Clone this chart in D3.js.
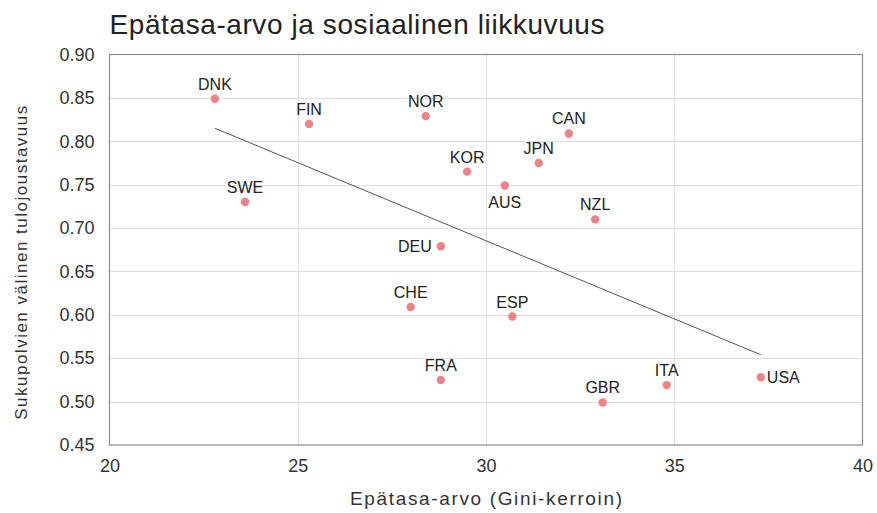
<!DOCTYPE html>
<html>
<head>
<meta charset="utf-8">
<script src="https://cdn.jsdelivr.net/npm/d3@7"></script>
<style>
  html, body { margin: 0; padding: 0; background: #fff; }
  svg { display: block; font-family: "Liberation Sans", Arial, sans-serif; }
</style>
</head>
<body>
<svg id="chart" width="877" height="513"></svg>
<script>
// ---- data ----
const countries = ["DNK","FIN","SWE","NOR","CAN","KOR","JPN","AUS","NZL","DEU","CHE","ESP","FRA","GBR","ITA","USA"];
const gini      = [22.8, 25.3, 23.6, 28.4, 32.2, 29.5, 31.4, 30.5, 32.9, 28.8, 28.0, 30.7, 28.8, 33.1, 34.8, 37.3];
const mobility  = [0.849, 0.820, 0.730, 0.829, 0.809, 0.765, 0.775, 0.749, 0.710, 0.679, 0.609, 0.598, 0.525, 0.499, 0.519, 0.528];
const labelSide = ["top","top","top","top","top","top","top","bottom","top","left","top","top","top","top","top","right"];
const trendX = [22.8, 37.3];
const trendY = [0.815, 0.554];
const xTicks = [20, 25, 30, 35, 40];
const yTicks = [0.45, 0.50, 0.55, 0.60, 0.65, 0.70, 0.75, 0.80, 0.85, 0.90];
const titleText = "Epätasa-arvo ja sosiaalinen liikkuvuus";
const xTitle = "Epätasa-arvo (Gini-kerroin)";
const yTitle = "Sukupolvien välinen tulojoustavuus";

// ---- layout ----
const svg = d3.select("#chart");
const L = 109.5, R = 862.5, T = 54.5, B = 445;
const x = d3.scaleLinear().domain([20, 40]).range([L, R]);
const y = d3.scaleLinear().domain([0.45, 0.90]).range([B, T]);

// gridlines
const grid = svg.append("g");
grid.selectAll(".gx").data(xTicks.slice(1, -1)).enter().append("line")
  .attr("x1", d => Math.round(x(d)) + 0.5).attr("x2", d => Math.round(x(d)) + 0.5)
  .attr("y1", T).attr("y2", B).attr("stroke", "#e0e0e0").attr("stroke-width", 1);
grid.selectAll(".gy").data(yTicks.slice(1, -1)).enter().append("line")
  .attr("x1", L).attr("x2", R)
  .attr("y1", d => Math.round(y(d)) + 0.5).attr("y2", d => Math.round(y(d)) + 0.5)
  .attr("stroke", "#e0e0e0").attr("stroke-width", 1);

// frame
svg.append("rect").attr("x", L).attr("y", T).attr("width", R - L).attr("height", B - T)
  .attr("fill", "none").attr("stroke", "#8c8c8c").attr("stroke-width", 1.2);

// axes (labels only)
const xAxis = d3.axisBottom(x).tickValues(xTicks).tickSize(0).tickPadding(14).tickFormat(d3.format("d"));
const gx = svg.append("g").attr("transform", `translate(0,${B})`).call(xAxis);
gx.select(".domain").remove();
gx.selectAll("text").attr("font-size", 18).attr("fill", "#333").attr("font-family", "'Liberation Sans', Arial, sans-serif");

const yAxis = d3.axisLeft(y).tickValues(yTicks).tickSize(0).tickPadding(15).tickFormat(d3.format(".2f"));
const gy = svg.append("g").attr("transform", `translate(${L},0)`).call(yAxis);
gy.select(".domain").remove();
gy.selectAll("text").attr("font-size", 18).attr("fill", "#333").attr("font-family", "'Liberation Sans', Arial, sans-serif");

// trend line
svg.append("line")
  .attr("x1", x(trendX[0])).attr("y1", y(trendY[0]))
  .attr("x2", x(trendX[1])).attr("y2", y(trendY[1]))
  .attr("stroke", "#555").attr("stroke-width", 1);

// points
const pts = countries.map((c, i) => ({c, gx: gini[i], my: mobility[i], side: labelSide[i]}));
svg.append("g").selectAll("circle").data(pts).enter().append("circle")
  .attr("cx", d => x(d.gx)).attr("cy", d => y(d.my)).attr("r", 4.2)
  .attr("fill", "#ef8288");

// labels
svg.append("g").selectAll("text").data(pts).enter().append("text")
  .attr("x", d => d.side === "left" ? x(d.gx) - 9 : d.side === "right" ? x(d.gx) + 6 : x(d.gx))
  .attr("y", d => d.side === "top" ? y(d.my) - 9 : d.side === "bottom" ? y(d.my) + 22 : y(d.my) + 6)
  .attr("text-anchor", d => d.side === "left" ? "end" : d.side === "right" ? "start" : "middle")
  .attr("font-size", 16).attr("fill", "#222")
  .text(d => d.c);

// titles
svg.append("text").attr("x", L).attr("y", 34).attr("font-size", 28).attr("fill", "#222")
  .attr("textLength", 495).attr("lengthAdjust", "spacing")
  .text(titleText);
svg.append("text").attr("x", (L + R) / 2 - 136).attr("y", 505)
  .attr("font-size", 19).attr("fill", "#333")
  .attr("textLength", 272).attr("lengthAdjust", "spacing").text(xTitle);
svg.append("text").attr("transform", `translate(27,${(T + B) / 2 + 13 + 157}) rotate(-90)`)
  .attr("font-size", 17).attr("fill", "#333")
  .attr("textLength", 314).attr("lengthAdjust", "spacing").text(yTitle);
</script>
</body>
</html>
